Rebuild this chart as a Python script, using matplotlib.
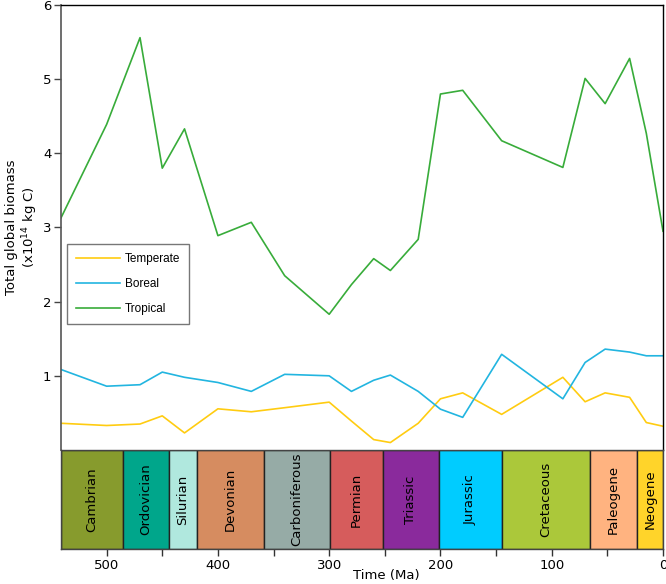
""" Total global biomass through the Phanerozoic, with a geological timescale strip. """

import matplotlib.pyplot as plt
import numpy as np

# Time slices (Ma)
time_ma = [541, 500, 470, 450, 430, 400, 370, 340, 300, 280, 260, 245, 220,
           200, 180, 145, 90, 70, 52, 30, 15, 0]

# Biomass (x10^14 kg C)
temperate = [0.36, 0.33, 0.35, 0.46, 0.23, 0.555, 0.515, 0.57, 0.645, 0.39, 0.14, 0.10, 0.36,
             0.69, 0.77, 0.48, 0.98, 0.65, 0.77, 0.71, 0.37, 0.32]
boreal = [1.085, 0.86, 0.88, 1.05, 0.98, 0.91, 0.79, 1.02, 1.00, 0.79, 0.94, 1.01, 0.79,
          0.55, 0.44, 1.29, 0.69, 1.18, 1.36, 1.32, 1.27, 1.27]
tropical = [3.13, 4.39, 5.56, 3.80, 4.33, 2.89, 3.07, 2.35, 1.83, 2.23, 2.58, 2.42, 2.84,
            4.80, 4.85, 4.17, 3.81, 5.01, 4.67, 5.28, 4.27, 2.95]

# Geological periods
periods = ['Cambrian', 'Ordovician', 'Silurian', 'Devonian', 'Carboniferous', 'Permian',
           'Triassic', 'Jurassic', 'Cretaceous', 'Paleogene', 'Neogene']
period_start = [541, 485, 444, 419, 359, 299, 252, 201, 145, 66, 23]
period_end = [485, 444, 419, 359, 299, 252, 201, 145, 66, 23, 0]
period_colors = ['#879b2d', '#00a68b', '#b0e8de', '#d68c60', '#96aba6', '#d65c5c',
                 '#8a2a9c', '#00ccff', '#abc83a', '#ffb380', '#ffd42a']

plt.rcParams['font.family'] = 'DejaVu Sans'

fig = plt.figure(figsize=(6.66, 5.84), dpi=100)
ax = fig.add_axes([0.0916, 0.2295, 0.9039, 0.7619])
ax_ts = fig.add_axes([0.0916, 0.0599, 0.9039, 0.1696])

# Biomass lines
ax.plot(time_ma, temperate, color='#ffcc11', lw=1.2, label='Temperate')
ax.plot(time_ma, boreal, color='#22b5e0', lw=1.2, label='Boreal')
ax.plot(time_ma, tropical, color='#38ac3a', lw=1.2, label='Tropical')

ax.set_xlim(541, 0)
ax.set_ylim(0, 6)
ax.set_yticks([1, 2, 3, 4, 5, 6])
ax.tick_params(axis='y', direction='out', length=5, width=1, colors='#444444',
               labelcolor='black', labelsize=9.5, pad=2)
ax.set_xticks([])
ax.spines['left'].set_color('#555555')
ax.spines['left'].set_linewidth(1.2)
ax.spines['top'].set_linewidth(1)
ax.spines['right'].set_linewidth(1)
ax.spines['bottom'].set_visible(False)
ax.set_ylabel('Total global biomass\n(x10$^{14}$ kg C)', fontsize=9.5, labelpad=2)

leg = ax.legend(loc='upper left', bbox_to_anchor=(0.0095, 0.463), borderaxespad=0,
                prop={'family': 'Liberation Sans', 'size': 8.5}, handlelength=3.8,
                handletextpad=0.4, labelspacing=1.1, fancybox=False, framealpha=1,
                borderpad=0.75)
leg.get_frame().set_edgecolor('#777777')
leg.get_frame().set_linewidth(1)

# Timescale strip
for name, start, end, col in zip(periods, period_start, period_end, period_colors):
    ax_ts.bar((start + end) / 2, 1, width=start - end, bottom=0, color=col,
              edgecolor='#222222', linewidth=1)
    ax_ts.text((start + end) / 2, 0.5, name, rotation=90, ha='center', va='center',
               fontsize=9.5)

ax_ts.set_xlim(541, 0)
ax_ts.set_ylim(0, 1)
ax_ts.set_yticks([])
ax_ts.set_xticks([500, 400, 300, 200, 100, 0])
ax_ts.set_xticks([450, 350, 250, 150, 50], minor=True)
ax_ts.tick_params(axis='x', which='both', direction='out', length=5, width=1,
                  colors='#333333', labelcolor='black', labelsize=9.5, pad=2)
for s in ax_ts.spines.values():
    s.set_color('#444444')
    s.set_linewidth(1)
ax_ts.set_xlabel('Time (Ma)', fontsize=9.5, labelpad=1)
ax_ts.xaxis.set_label_coords(0.54, -0.2)

fig.savefig('out.png', dpi=100)
